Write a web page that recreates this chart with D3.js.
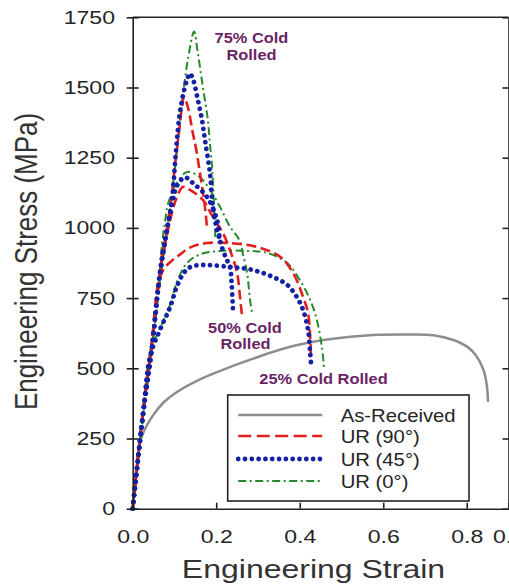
<!DOCTYPE html>
<html>
<head>
<meta charset="utf-8">
<script src="https://cdn.jsdelivr.net/npm/d3@7"></script>
<style>
  body { margin: 0; background: #fff; }
  text { font-family: "Liberation Sans", Arial, sans-serif; }
</style>
</head>
<body>
<div id="chart"></div>
<script>

// strain / stress (MPa)
var asReceived = [[0,0],[0.008,120],[0.015,220],[0.025,270],[0.05,335],[0.075,380],[0.105,415],[0.16,460],
  [0.225,500],[0.28,530],[0.35,565],[0.4,585],[0.48,605],[0.56,617],[0.64,620],[0.72,618],[0.77,600],
  [0.8,578],[0.82,550],[0.84,495],[0.848,440],[0.851,380]];

var ur90_75 = [[0,0],[0.025,350],[0.045,580],[0.065,840],[0.082,1000],[0.094,1120],[0.101,1220],[0.11,1330],
  [0.118,1430],[0.123,1467],[0.132,1431],[0.144,1338],[0.152,1280],[0.161,1196],[0.173,1075],[0.178,1000]];
var ur90_50 = [[0,0],[0.025,350],[0.045,580],[0.065,840],[0.08,960],[0.095,1060],[0.106,1110],[0.12,1146],
  [0.137,1135],[0.168,1100],[0.192,1039],[0.216,982],[0.233,921],[0.25,840],[0.257,754],[0.262,683]];
var ur90_25 = [[0,0],[0.025,350],[0.045,580],[0.061,800],[0.075,855],[0.095,885],[0.113,905],[0.137,930],
  [0.178,946],[0.233,946],[0.298,932],[0.353,897],[0.384,840],[0.408,754],[0.42,697],[0.425,612],[0.427,540]];

var ur45_75 = [[0,0],[0.025,340],[0.045,560],[0.065,830],[0.082,990],[0.094,1100],[0.104,1280],[0.112,1400],
  [0.12,1470],[0.13,1527],[0.137,1550],[0.145,1527],[0.156,1456],[0.166,1384],[0.173,1313],[0.185,1196],
  [0.192,1075],[0.202,993],[0.207,965]];
var ur45_50 = [[0,0],[0.025,340],[0.045,560],[0.065,840],[0.08,980],[0.095,1090],[0.106,1150],[0.125,1180],
  [0.144,1160],[0.178,1110],[0.202,1028],[0.209,957],[0.216,921],[0.226,885],[0.233,861],[0.237,800],[0.24,710]];
var ur45_25 = [[0,0],[0.025,340],[0.042,545],[0.065,636],[0.089,716],[0.108,800],[0.125,845],[0.14,862],
  [0.17,868],[0.233,861],[0.288,850],[0.336,825],[0.37,797],[0.393,754],[0.408,708],[0.42,637],[0.425,555],[0.428,500]];

var ur0_75 = [[0,0],[0.025,330],[0.045,550],[0.065,800],[0.085,1020],[0.1,1200],[0.11,1330],[0.118,1446],
  [0.132,1598],[0.147,1699],[0.156,1623],[0.168,1502],[0.18,1384],[0.185,1300],[0.19,1220],[0.194,1100],
  [0.197,1000],[0.198,960]];
var ur0_50 = [[0,0],[0.025,330],[0.045,560],[0.06,760],[0.07,940],[0.078,1028],[0.085,1088],[0.106,1160],
  [0.13,1199],[0.161,1181],[0.185,1135],[0.209,1075],[0.233,1004],[0.255,958],[0.265,900],[0.274,840],
  [0.281,744],[0.286,697]];
var ur0_25 = [[0,0],[0.025,335],[0.042,560],[0.065,640],[0.089,725],[0.108,815],[0.13,875],[0.16,905],
  [0.21,918],[0.274,918],[0.322,911],[0.37,875],[0.4,815],[0.425,744],[0.441,672],[0.453,576],[0.458,505]];

var legendLabels = ["As-Received", "UR (90°)", "UR (45°)", "UR (0°)"];
var xTicks = [0, 0.2, 0.4, 0.6, 0.8, 0.9];
var yTicks = [0, 250, 500, 750, 1000, 1250, 1500, 1750];

var width = 509, height = 586;
var margin = {top: 17.3, right: 0.5, bottom: 77.3, left: 132.7};
var graphWidth = width - margin.left - margin.right;
var graphHeight = height - margin.top - margin.bottom;

var colors = {gray: "#8d8d8d", red: "#e01f1f", blue: "#1420a6", green: "#268a2a", purple: "#6a2465"};

var styles = [
  {color: colors.gray, w: 2.5, dash: null, cap: "butt"},
  {color: colors.red, w: 2.6, dash: "10 4.5", cap: "butt"},
  {color: colors.blue, w: 4.8, dash: "0.01 6.8", cap: "round"},
  {color: colors.green, w: 2, dash: "8 3.5 2 3.5", cap: "butt"}
];

var svg = d3.select("#chart")
  .append("svg")
  .attr("width", width)
  .attr("height", height)
  .append("g")
  .attr("transform", "translate(" + margin.left + "," + margin.top + ")");

var x = d3.scaleLinear().domain([0, 0.9]).range([0, graphWidth]);
var y = d3.scaleLinear().domain([0, 1750]).range([graphHeight, 0]);

// stretch text horizontally (the picture is wider than tall)
function stretch(sel, k) {
  sel.each(function() {
    var len = this.getComputedTextLength();
    d3.select(this).attr("textLength", len * k).attr("lengthAdjust", "spacingAndGlyphs");
  });
}

// curves
var line = d3.line()
  .x(function(d) { return x(d[0]); })
  .y(function(d) { return y(d[1]); })
  .curve(d3.curveCatmullRom.alpha(0.5));

var series = [
  {data: asReceived, s: styles[0]},
  {data: ur0_75, s: styles[3]}, {data: ur0_50, s: styles[3]}, {data: ur0_25, s: styles[3]},
  {data: ur90_75, s: styles[1]}, {data: ur90_50, s: styles[1]}, {data: ur90_25, s: styles[1]},
  {data: ur45_75, s: styles[2]}, {data: ur45_50, s: styles[2]}, {data: ur45_25, s: styles[2]}
];

svg.selectAll(".curve")
  .data(series)
  .enter()
  .append("path")
  .attr("class", "curve")
  .attr("d", function(d) { return line(d.data); })
  .attr("fill", "none")
  .attr("stroke", function(d) { return d.s.color; })
  .attr("stroke-width", function(d) { return d.s.w; })
  .attr("stroke-dasharray", function(d) { return d.s.dash; })
  .attr("stroke-linecap", function(d) { return d.s.cap; })
  .attr("stroke-linejoin", "round");

// axes
var yAxis = svg.append("g")
  .attr("class", "y axis")
  .call(d3.axisLeft(y).tickValues(yTicks).tickSizeInner(6).tickSizeOuter(0).tickPadding(11.7)
    .tickFormat(d3.format("d")));
yAxis.selectAll(".tick line").attr("x1", 6);

var rAxis = svg.append("g")
  .attr("transform", "translate(" + graphWidth + ",0)")
  .call(d3.axisLeft(y).tickValues(yTicks).tickSizeInner(6).tickSizeOuter(0).tickFormat(""));

var xAxis = svg.append("g")
  .attr("class", "x axis")
  .attr("transform", "translate(0," + graphHeight + ")")
  .call(d3.axisBottom(x).tickValues(xTicks).tickSizeInner(-6).tickSizeOuter(0).tickPadding(21)
    .tickFormat(d3.format(".1f")));

svg.append("line")
  .attr("x1", 0).attr("x2", graphWidth)
  .attr("y1", 0).attr("y2", 0)
  .attr("stroke", "#222").attr("stroke-width", 1.6);

svg.selectAll(".axis path, .axis line, g path.domain, g .tick line")
  .attr("stroke", "#222").attr("stroke-width", 1.6);

svg.selectAll(".axis text")
  .attr("fill", "#252525")
  .style("font-size", "18.6px");
stretch(svg.selectAll(".axis text"), 1.24);

// axis titles
var xt = svg.append("text")
  .attr("x", 313.5 - margin.left)
  .attr("y", 578 - margin.top)
  .attr("text-anchor", "middle")
  .attr("fill", "#333")
  .style("font-size", "25px")
  .text("Engineering Strain");
stretch(xt, 1.28);

var yt = svg.append("g")
  .attr("transform", "translate(" + (36.7 - margin.left) + "," + (261.5 - margin.top) + ")scale(1.25,1)")
  .append("text")
  .attr("transform", "rotate(-90)")
  .attr("text-anchor", "middle")
  .attr("fill", "#333")
  .style("font-size", "24.5px")
  .text("Engineering Stress (MPa)");
stretch(yt, 1.06);

// annotations
var notes = [
  {t: "75% Cold", cx: 251.5, by: 43.3},
  {t: "Rolled", cx: 251.5, by: 60},
  {t: "50% Cold", cx: 245, by: 333.5},
  {t: "Rolled", cx: 245.5, by: 349.5},
  {t: "25% Cold Rolled", cx: 323.5, by: 384}
];
var nt = svg.selectAll(".note")
  .data(notes)
  .enter()
  .append("text")
  .attr("class", "note")
  .attr("x", function(d) { return d.cx - margin.left; })
  .attr("y", function(d) { return d.by - margin.top; })
  .attr("text-anchor", "middle")
  .attr("fill", colors.purple)
  .style("font-size", "14px")
  .style("font-weight", "bold")
  .text(function(d) { return d.t; });
stretch(nt, 1.17);

// legend
var legend = svg.append("g")
  .attr("transform", "translate(" + (227.7 - margin.left) + "," + (395 - margin.top) + ")");

legend.append("rect")
  .attr("width", 241.3)
  .attr("height", 106)
  .attr("fill", "#fff")
  .attr("stroke", "#222")
  .attr("stroke-width", 1.6);

var rowY = [20, 41, 64, 86];
legendLabels.forEach(function(label, i) {
  var s = styles[i];
  legend.append("line")
    .attr("x1", 10.5).attr("x2", 94.5)
    .attr("y1", rowY[i]).attr("y2", rowY[i])
    .attr("stroke", s.color)
    .attr("stroke-width", s.w)
    .attr("stroke-dasharray", i == 1 ? "13 5.5" : s.dash)
    .attr("stroke-linecap", s.cap);
  var t = legend.append("text")
    .attr("x", 113)
    .attr("y", rowY[i] + 6.7)
    .attr("fill", "#252525")
    .style("font-size", "18.6px")
    .text(label);
  stretch(t, 1.09);
});

</script>
</body>
</html>
